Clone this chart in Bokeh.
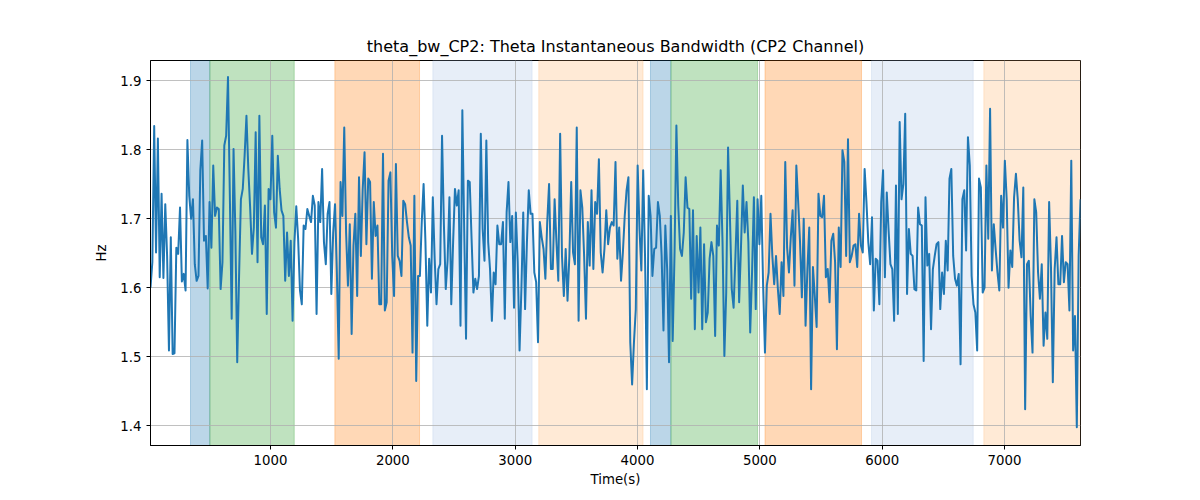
from bokeh.plotting import figure
from bokeh.models import BoxAnnotation, FixedTicker, Range1d
from bokeh.embed import file_html
from bokeh.resources import INLINE
import numpy as np

# ---- data ----
t_start = 19.0
t_end = 7621.0

bw_hz = [
    # 0 - ~1150 s
    1.600, 1.637, 1.834, 1.651, 1.816, 1.615, 1.736, 1.614, 1.721, 1.646,
    1.509, 1.673, 1.504, 1.505, 1.658, 1.649, 1.716, 1.609, 1.620, 1.596,
    1.814, 1.733, 1.700, 1.728, 1.634, 1.610, 1.617, 1.770, 1.813, 1.668,
    1.675, 1.599, 1.724, 1.658, 1.777, 1.704, 1.716, 1.714, 1.598, 1.637,
    1.806, 1.820, 1.905, 1.733, 1.555, 1.801, 1.680, 1.492, 1.617, 1.728,
    1.743, 1.791, 1.849, 1.772, 1.716, 1.649, 1.687, 1.825, 1.637,
    # ~1150 - ~2100 s
    1.849, 1.673, 1.663, 1.719, 1.562, 1.743, 1.728, 1.820, 1.709, 1.687,
    1.791, 1.743, 1.712, 1.704, 1.610, 1.680, 1.617, 1.668, 1.552, 1.666,
    1.718, 1.671, 1.596, 1.576, 1.690, 1.685, 1.714, 1.704, 1.695, 1.733,
    1.719, 1.562, 1.724, 1.695, 1.772, 1.666, 1.634, 1.707, 1.724, 1.591,
    1.680, 1.721, 1.622, 1.497, 1.753, 1.704, 1.832, 1.680, 1.603, 1.692,
    1.533, 1.661, 1.707, 1.588, 1.760, 1.646, 1.743, 1.796, 1.663, 1.758,
    1.753,
    # ~2100 - ~3050 s
    1.613, 1.724, 1.675, 1.690, 1.576, 1.576, 1.794, 1.567, 1.579, 1.755,
    1.767, 1.646, 1.588, 1.779, 1.646, 1.639, 1.617, 1.726, 1.721, 1.695,
    1.673, 1.661, 1.506, 1.733, 1.465, 1.617, 1.617, 1.695, 1.750, 1.666,
    1.545, 1.642, 1.593, 1.731, 1.642, 1.576, 1.627, 1.634, 1.820, 1.692,
    1.598, 1.639, 1.731, 1.576, 1.666, 1.743, 1.719, 1.741, 1.545, 1.857,
    1.685, 1.526, 1.755, 1.753, 1.671, 1.593, 1.613, 1.598, 1.617, 1.823,
    1.685, 1.639,
    # ~3050 - ~4000 s
    1.813, 1.666, 1.627, 1.552, 1.622, 1.605, 1.690, 1.663, 1.663, 1.695,
    1.555, 1.709, 1.753, 1.666, 1.704, 1.571, 1.709, 1.637, 1.509, 1.598,
    1.709, 1.569, 1.666, 1.741, 1.707, 1.707, 1.622, 1.608, 1.521, 1.695,
    1.673, 1.656, 1.613, 1.695, 1.750, 1.627, 1.627, 1.728, 1.666, 1.610,
    1.823, 1.646, 1.588, 1.656, 1.581, 1.646, 1.753, 1.651, 1.634, 1.832,
    1.552, 1.741, 1.716, 1.646, 1.555, 1.695, 1.632, 1.741, 1.627, 1.724,
    1.707,
    # ~4000 - ~4950 s
    1.786, 1.651, 1.622, 1.656, 1.712, 1.663, 1.687, 1.695, 1.690, 1.782,
    1.642, 1.687, 1.610, 1.651, 1.704, 1.741, 1.760, 1.521, 1.460, 1.521,
    1.569, 1.777, 1.685, 1.625, 1.770, 1.646, 1.453, 1.733, 1.704, 1.617,
    1.656, 1.658, 1.724, 1.704, 1.646, 1.538, 1.690, 1.627, 1.492, 1.704,
    1.523, 1.651, 1.835, 1.719, 1.656, 1.646, 1.680, 1.760, 1.716, 1.714,
    1.584, 1.712, 1.540, 1.675, 1.593, 1.687, 1.540, 1.663, 1.550, 1.564,
    1.642, 1.666, 1.646, 1.530,
    # ~4950 - ~5900 s
    1.690, 1.661, 1.770, 1.666, 1.501, 1.593, 1.803, 1.704, 1.598, 1.571,
    1.646, 1.726, 1.579, 1.658, 1.748, 1.680, 1.724, 1.666, 1.535, 1.622,
    1.731, 1.569, 1.728, 1.663, 1.733, 1.603, 1.506, 1.603, 1.622, 1.707,
    1.646, 1.605, 1.646, 1.598, 1.562, 1.637, 1.588, 1.782, 1.658, 1.622,
    1.673, 1.712, 1.603, 1.777, 1.724, 1.666, 1.586, 1.700, 1.545, 1.627,
    1.687, 1.453, 1.630, 1.588, 1.543, 1.736, 1.704, 1.702, 1.733, 1.615,
    1.627, 1.579, 1.668,
    # ~5900 - ~6850 s
    1.678, 1.637, 1.511, 1.687, 1.630, 1.799, 1.782, 1.646, 1.815, 1.637,
    1.646, 1.661, 1.663, 1.630, 1.707, 1.661, 1.651, 1.772, 1.724, 1.666,
    1.634, 1.702, 1.567, 1.642, 1.639, 1.576, 1.724, 1.770, 1.615, 1.738,
    1.683, 1.634, 1.627, 1.552, 1.748, 1.562, 1.840, 1.728, 1.750, 1.852,
    1.591, 1.685, 1.649, 1.646, 1.598, 1.596, 1.716, 1.692, 1.690, 1.494,
    1.731, 1.632, 1.649, 1.540, 1.627, 1.646, 1.663, 1.666, 1.569, 1.622,
    1.591, 1.668, 1.625,
    # ~6850 - end
    1.758, 1.772, 1.646, 1.613, 1.603, 1.620, 1.489, 1.728, 1.741, 1.654,
    1.818, 1.777, 1.617, 1.576, 1.564, 1.509, 1.758, 1.745, 1.593, 1.600,
    1.777, 1.671, 1.859, 1.625, 1.692, 1.656, 1.622, 1.596, 1.733, 1.687,
    1.784, 1.728, 1.600, 1.654, 1.630, 1.731, 1.765, 1.728, 1.668, 1.644,
    1.745, 1.424, 1.634, 1.639, 1.559, 1.506, 1.728, 1.709, 1.622, 1.584,
    1.634, 1.516, 1.564, 1.526, 1.724, 1.630, 1.463, 1.627, 1.673, 1.605,
    1.605, 1.675, 1.608, 1.637, 1.634, 1.567, 1.784, 1.509, 1.559, 1.398,
    1.646, 1.728,
]

# shaded epochs (start, end in seconds) and their colours
span_start = [346, 504, 1526, 2327, 3193, 4106, 4273, 5042, 5913, 6831]
span_end = [504, 1194, 2218, 3138, 4045, 4273, 4981, 5831, 6744, 7700]
span_color = ["#1f77b4", "#2ca02c", "#ff7f0e", "#aec7e8", "#ffbb78",
              "#1f77b4", "#2ca02c", "#ff7f0e", "#aec7e8", "#ffbb78"]

x_ticks = [1000, 2000, 3000, 4000, 5000, 6000, 7000]
y_ticks = [1.4, 1.5, 1.6, 1.7, 1.8, 1.9]

time_s = np.linspace(t_start, t_end, len(bw_hz))

FONT = "DejaVu Sans"

p = figure(width=1200, height=500, output_backend="svg", toolbar_location=None,
           x_range=Range1d(19, 7621), y_range=Range1d(1.3715, 1.929),
           min_border_left=150, min_border_right=120, min_border_top=60,
           min_border_bottom=55,
           title="theta_bw_CP2: Theta Instantaneous Bandwidth (CP2 Channel)")

p.title.text_font = FONT
p.title.text_font_size = "16px"
p.title.text_font_style = "normal"
p.title.align = "center"
p.title.text_color = "black"

for s, e, c in zip(span_start, span_end, span_color):
    p.add_layout(BoxAnnotation(left=s, right=e, fill_color=c, fill_alpha=0.3,
                               line_color=c, line_alpha=0.3, level="image"))

p.line(time_s, bw_hz, line_color="#1f77b4", line_width=2, line_join="round")

p.xaxis.ticker = FixedTicker(ticks=x_ticks)
p.yaxis.ticker = FixedTicker(ticks=y_ticks)
p.xaxis.axis_label = "Time(s)"
p.yaxis.axis_label = "Hz"
for ax in (p.xaxis, p.yaxis):
    ax.axis_label_text_font = FONT
    ax.axis_label_text_font_size = "13.3px"
    ax.axis_label_text_font_style = "normal"
    ax.axis_label_text_color = "black"
    ax.major_label_text_font = FONT
    ax.major_label_text_font_size = "13.3px"
    ax.major_label_text_color = "black"
    ax.axis_line_color = "black"
    ax.major_tick_line_color = "black"
    ax.major_tick_out = 4
    ax.major_tick_in = 0
    ax.minor_tick_line_color = None
p.xaxis.axis_label_standoff = 4
p.yaxis.axis_label_standoff = 8

p.grid.grid_line_color = "#b0b0b0"
p.grid.grid_line_width = 0.8
p.outline_line_color = "black"
p.outline_line_alpha = 1.0

open("out.html", "w").write(file_html(p, INLINE))
